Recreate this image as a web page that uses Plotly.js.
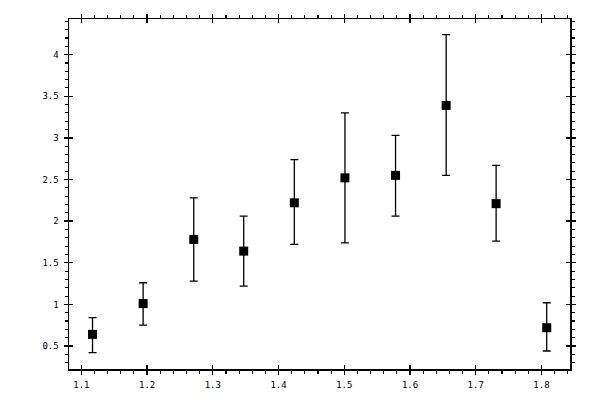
<!DOCTYPE html>
<html>
<head>
<meta charset="utf-8">
<script src="https://cdn.plot.ly/plotly-3.0.1.min.js"></script>
<style>html,body{margin:0;padding:0;background:#fff;}#chart{width:600px;height:400px;}</style>
</head>
<body>
<div id="chart"></div>
<script>
var xValues = [1.117, 1.194, 1.271, 1.347, 1.424, 1.501, 1.578, 1.655, 1.731, 1.808];
var yValues = [0.64, 1.01, 1.78, 1.64, 2.22, 2.52, 2.55, 3.39, 2.21, 0.72];
var yUpper  = [0.84, 1.26, 2.28, 2.06, 2.74, 3.30, 3.03, 4.24, 2.67, 1.02];
var yLower  = [0.42, 0.75, 1.28, 1.22, 1.72, 1.74, 2.06, 2.55, 1.76, 0.44];

var errPlus = yUpper.map(function(u, i){ return u - yValues[i]; });
var errMinus = yLower.map(function(l, i){ return yValues[i] - l; });

var xRange = [1.0812, 1.8434];
var yRange = [0.224, 4.428];
var tickFont = {family: 'DejaVu Sans Mono, monospace', size: 9, color: '#000'};

var traces = [
  {
    type: 'scatter', mode: 'markers',
    x: xValues, y: yValues,
    marker: {symbol: 'square', size: 9, color: '#000'},
    error_y: {type: 'data', symmetric: false, array: errPlus, arrayminus: errMinus,
              color: '#000', thickness: 1.3, width: 4},
    hoverinfo: 'x+y', showlegend: false
  },
  {
    type: 'scatter', mode: 'markers', x: [xValues[0]], y: [yValues[0]],
    xaxis: 'x2', yaxis: 'y2', marker: {opacity: 0}, hoverinfo: 'skip', showlegend: false
  }
];

var layout = {
  width: 600, height: 400,
  margin: {l: 69, r: 30, t: 19, b: 31, pad: 0},
  paper_bgcolor: '#fff', plot_bgcolor: '#fff',
  showlegend: false,
  xaxis: {
    range: xRange, tick0: 1.1, dtick: 0.1,
    showgrid: false, zeroline: false,
    showline: true, linecolor: '#000', linewidth: 1.5, mirror: 'allticks',
    ticks: 'outside', ticklen: 4, tickwidth: 1.3, tickcolor: '#000',
    minor: {ticks: 'outside', ticklen: 3, tickwidth: 1.1, tickcolor: '#000', tick0: 1.1, dtick: 0.02, showgrid: false},
    tickfont: tickFont, ticklabelstandoff: 3
  },
  yaxis: {
    range: yRange, tick0: 0.5, dtick: 0.5,
    showgrid: false, zeroline: false,
    showline: true, linecolor: '#000', linewidth: 1.5, mirror: 'allticks',
    ticks: 'outside', ticklen: 4, tickwidth: 1.3, tickcolor: '#000',
    minor: {ticks: 'outside', ticklen: 3, tickwidth: 1.1, tickcolor: '#000', tick0: 0, dtick: 0.1, showgrid: false},
    tickfont: tickFont, ticklabelstandoff: 3
  },
  xaxis2: {
    overlaying: 'x', anchor: 'y2', range: xRange, tick0: 1.1, dtick: 0.1,
    showgrid: false, zeroline: false, showline: false, mirror: 'allticks',
    ticks: 'inside', ticklen: 4, tickwidth: 1.3, tickcolor: '#000',
    showticklabels: false
  },
  yaxis2: {
    overlaying: 'y', anchor: 'x2', range: yRange, tick0: 0.5, dtick: 0.5,
    showgrid: false, zeroline: false, showline: false, mirror: 'allticks',
    ticks: 'inside', ticklen: 4, tickwidth: 1.3, tickcolor: '#000',
    showticklabels: false
  }
};

Plotly.newPlot('chart', traces, layout, {staticPlot: true, displayModeBar: false});
</script>
</body>
</html>
